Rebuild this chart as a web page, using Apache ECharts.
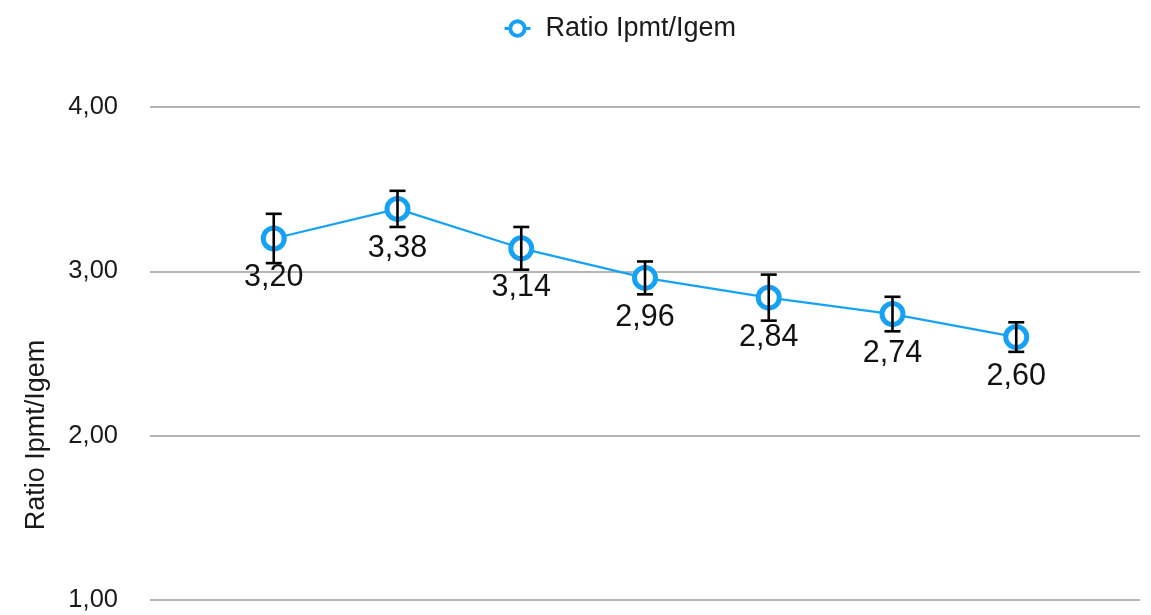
<!DOCTYPE html>
<html>
<head>
<meta charset="utf-8">
<script src="https://cdn.jsdelivr.net/npm/echarts@6/dist/echarts.min.js"></script>
<style>
html,body{margin:0;padding:0;background:#fff;}
#chart{width:1151px;height:615px;}
</style>
</head>
<body>
<div id="chart"></div>
<script>
const seriesName = 'Ratio Ipmt/Igem';
const categories = [1, 2, 3, 4, 5, 6, 7];
const ratioValues = [3.20, 3.38, 3.14, 2.96, 2.84, 2.74, 2.60];
const errorValues = [0.15, 0.11, 0.13, 0.10, 0.14, 0.105, 0.09];
const yTicks = [1, 2, 3, 4];

const fmt = v => Number(v).toFixed(2).replace('.', ',');
const blue = '#16a2f4';
const font = '"Liberation Sans", Arial, Helvetica, sans-serif';

const lineData = categories.map((c, i) => [c, ratioValues[i]]);
const errData = categories.map((c, i) => [c, ratioValues[i] - errorValues[i], ratioValues[i] + errorValues[i]]);

const chart = echarts.init(document.getElementById('chart'));
chart.setOption({
  animation: false,
  backgroundColor: '#fff',
  textStyle: { fontFamily: font },
  legend: {
    left: 498, top: 10,
    itemWidth: 26, itemHeight: 18,
    data: [seriesName],
    itemStyle: { color: '#ffffff', borderColor: blue, borderWidth: 4 },
    lineStyle: { color: blue, width: 3 },
    textStyle: { fontSize: 27, color: '#1a1a1a', fontFamily: font, padding: [0, 0, 0, 10] }
  },
  grid: { left: 150, right: 11, top: 107, bottom: 15 },
  xAxis: { type: 'value', min: 0, max: 8, show: false },
  yAxis: {
    type: 'value', min: yTicks[0], max: yTicks[yTicks.length - 1], interval: 1,
    axisLine: { show: false }, axisTick: { show: false },
    axisLabel: { formatter: fmt, fontSize: 25.5, color: '#1a1a1a', margin: 32, fontFamily: font },
    splitLine: { lineStyle: { color: '#b5b5b5', width: 2 } }
  },
  graphic: [{
    type: 'text', x: 37, y: 435, rotation: Math.PI / 2,
    style: { text: seriesName, fontSize: 27, fill: '#1a1a1a', fontFamily: font, align: 'center', verticalAlign: 'middle' }
  }],
  series: [{
    name: seriesName,
    type: 'line',
    data: lineData,
    symbol: 'circle',
    symbolSize: 21,
    itemStyle: { color: '#ffffff', borderColor: blue, borderWidth: 5 },
    lineStyle: { color: blue, width: 2.2 },
    label: {
      show: true, position: 'bottom', distance: 11,
      formatter: p => fmt(p.value[1]),
      fontSize: 30.5, color: '#111', fontFamily: font
    },
    z: 2
  }, {
    type: 'custom',
    name: 'err',
    data: errData,
    z: 5,
    silent: true,
    renderItem: function (params, api) {
      const x = api.value(0);
      const lo = api.coord([x, api.value(1)]);
      const hi = api.coord([x, api.value(2)]);
      const hw = 8;
      const style = { stroke: '#000', lineWidth: 2.6, fill: 'none' };
      return {
        type: 'group',
        children: [
          { type: 'line', shape: { x1: hi[0], y1: hi[1], x2: lo[0], y2: lo[1] }, style },
          { type: 'line', shape: { x1: hi[0] - hw, y1: hi[1], x2: hi[0] + hw, y2: hi[1] }, style },
          { type: 'line', shape: { x1: lo[0] - hw, y1: lo[1], x2: lo[0] + hw, y2: lo[1] }, style }
        ]
      };
    }
  }]
});
</script>
</body>
</html>
